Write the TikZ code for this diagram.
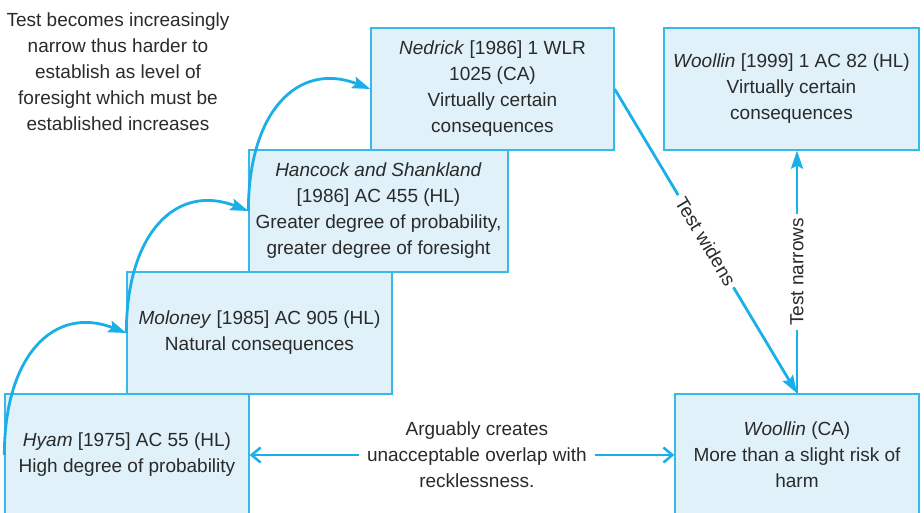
\documentclass[tikz,border=0pt]{standalone}
\usepackage{fontspec}
\setmainfont{Liberation Sans}
\usetikzlibrary{arrows.meta}
\definecolor{cyanline}{HTML}{1AAFE8}
\definecolor{boxedge}{HTML}{38B9EA}
\definecolor{boxfill}{HTML}{E0F1FA}
\definecolor{inktext}{HTML}{2A2A2A}
\begin{document}
\begin{tikzpicture}[x=1pt,y=-1pt,
  every node/.style={text=inktext, font=\fontsize{19}{26}\selectfont},
  casebox/.style={draw=boxedge, fill=boxfill, line width=1.3pt,
    minimum height=122pt, align=center, inner sep=0pt},
  flow/.style={draw=cyanline, line width=2.8pt,
    -{Stealth[length=18pt,width=12pt,inset=3pt]}},
  twoway/.style={draw=cyanline, line width=2.5pt,
    {Straight Barb[length=9pt,width=15pt]}-{Straight Barb[length=9pt,width=15pt]}},
  gaplabel/.style={fill=white, inner sep=4pt}]
\useasboundingbox (0,0) rectangle (924,512);
\clip (0,0) rectangle (924,512);

% explanatory note
\node[align=center] (note) at (118,72)
  {Test becomes increasingly\\narrow thus harder to\\establish as level of\\foresight which must be\\established increases};

% staircase of cases
\node[casebox, minimum width=243pt] (nedrick) at (492.5,89)
  {\textit{Nedrick} [1986] 1 WLR\\1025 (CA)\\Virtually certain\\consequences};
\node[casebox, minimum width=259pt] (hancock) at (378.5,211)
  {\textit{Hancock and Shankland}\\{}[1986] AC 455 (HL)\\Greater degree of probability,\\greater degree of foresight};
\node[casebox, minimum width=265pt] (moloney) at (259.5,333)
  {\textit{Moloney} [1985] AC 905 (HL)\\Natural consequences};
\node[casebox, minimum width=244pt] (hyam) at (127,455)
  {\textit{Hyam} [1975] AC 55 (HL)\\High degree of probability};

% Woollin cases
\node[casebox, minimum width=255pt] (whl) at (791.5,89)
  {\textit{Woollin} [1999] 1 AC 82 (HL)\\Virtually certain\\consequences};
\node[casebox, minimum width=244pt] (wca) at (797,455)
  {\textit{Woollin} (CA)\\More than a slight risk of\\harm};

% rising arrows between the steps
\draw[flow] (hyam.west) .. controls +(0,-100) and +(-72,-28) .. (moloney.west);
\draw[flow] (moloney.west) .. controls +(0,-100) and +(-72,-28) .. (hancock.west);
\draw[flow] (hancock.west) .. controls +(0,-100) and +(-72,-28) .. (nedrick.west);

% widening and narrowing
\draw[flow] (nedrick.east) -- node[midway, sloped, gaplabel] {Test widens} (wca.north);
\draw[flow] (wca.north) -- node[midway, sloped, gaplabel] {Test narrows} (wca.north |- whl.south);

% overlap with recklessness
\draw[twoway] (hyam.east) -- node[pos=0.535, gaplabel, align=center, inner xsep=8pt]
  {Arguably creates\\unacceptable overlap with\\recklessness.} (wca.west);
\end{tikzpicture}
\end{document}
